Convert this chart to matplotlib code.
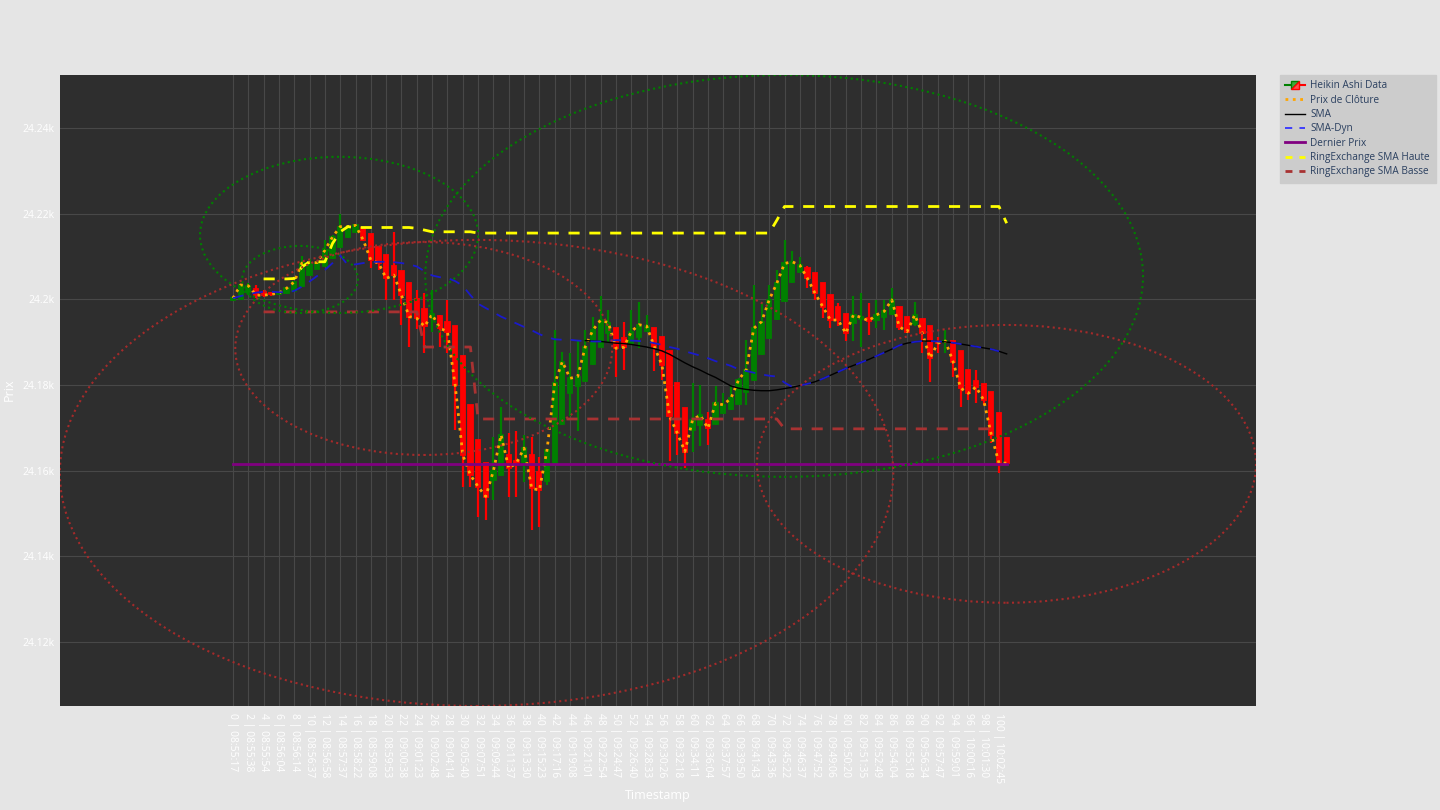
import numpy as np
import matplotlib
matplotlib.use('Agg')
import matplotlib.pyplot as plt
from matplotlib.patches import Ellipse, Polygon
from matplotlib.lines import Line2D
from matplotlib.legend_handler import HandlerBase
from matplotlib.ticker import FuncFormatter

plt.rcParams['font.family'] = ['Open Sans', 'DejaVu Sans']

# ---- data ----
ha_open = [24199.9, 24200.1, 24201.8, 24202.5, 24201.8, 24201.4, 24201.3, 24201.4, 24202.0, 24203.1,
           24205.8, 24207.2, 24207.9, 24209.7, 24212.2, 24214.6, 24215.8, 24216.6, 24215.3, 24212.3,
           24210.4, 24207.7, 24206.7, 24203.9, 24200.0, 24197.8, 24195.8, 24196.2, 24194.8, 24193.7,
           24186.9, 24175.3, 24167.2, 24161.8, 24157.9, 24159.0, 24163.7, 24162.2, 24162.0, 24163.7,
           24159.8, 24157.7, 24161.3, 24170.9, 24178.2, 24179.9, 24181.0, 24185.0, 24189.0, 24192.1,
           24193.4, 24191.0, 24189.9, 24191.2, 24192.7, 24193.3, 24191.2, 24188.0, 24180.4, 24174.6,
           24169.6, 24170.8, 24171.9, 24170.9, 24173.4, 24174.4, 24175.7, 24178.5, 24181.1, 24187.2,
           24191.0, 24195.5, 24199.7, 24204.1, 24206.5, 24207.3, 24206.1, 24203.8, 24201.1, 24198.2,
           24196.7, 24194.4, 24195.4, 24195.6, 24195.3, 24195.9, 24196.6, 24198.3, 24196.0, 24194.3,
           24195.4, 24193.8, 24190.1, 24190.0, 24190.2, 24187.9, 24183.6, 24180.9, 24180.3, 24178.4,
           24173.4, 24167.6]
ha_high = [24200.8, 24203.6, 24203.8, 24203.4, 24202.2, 24201.8, 24201.7, 24202.8, 24204.3, 24210.2,
           24209.4, 24209.0, 24213.9, 24215.0, 24219.9, 24217.4, 24217.6, 24216.6, 24215.3, 24212.3,
           24210.4, 24215.8, 24206.7, 24203.9, 24202.2, 24201.4, 24202.2, 24196.4, 24199.9, 24193.7,
           24186.9, 24175.3, 24167.2, 24161.8, 24168.0, 24175.0, 24168.8, 24169.2, 24168.4, 24168.0,
           24163.3, 24165.2, 24192.9, 24187.8, 24187.4, 24190.2, 24192.9, 24196.0, 24200.7, 24197.5,
           24193.4, 24194.8, 24197.6, 24199.5, 24196.4, 24193.3, 24191.2, 24188.0, 24180.4, 24174.6,
           24180.4, 24180.1, 24173.8, 24179.7, 24178.1, 24180.1, 24181.6, 24190.5, 24203.4, 24199.1,
           24203.4, 24206.9, 24213.9, 24211.2, 24210.0, 24207.7, 24206.1, 24203.8, 24201.1, 24199.1,
           24196.7, 24200.7, 24201.4, 24199.1, 24199.9, 24199.9, 24202.6, 24198.3, 24196.0, 24199.5,
           24195.4, 24193.8, 24191.3, 24192.9, 24190.2, 24187.9, 24183.6, 24183.6, 24180.3, 24178.4,
           24173.4, 24167.6]
ha_low = [24199.6, 24199.9, 24201.0, 24200.4, 24200.6, 24200.9, 24201.1, 24201.2, 24201.8, 24202.8,
          24205.5, 24207.0, 24207.7, 24209.5, 24212.0, 24214.4, 24215.6, 24213.7, 24207.3, 24206.9,
          24199.9, 24199.9, 24194.0, 24189.0, 24193.2, 24187.4, 24192.5, 24189.0, 24187.4, 24169.6,
          24156.3, 24156.3, 24149.3, 24148.6, 24153.2, 24158.8, 24154.0, 24154.0, 24157.5, 24146.2,
          24147.0, 24156.7, 24161.1, 24170.7, 24172.7, 24169.2, 24180.8, 24184.8, 24188.8, 24190.0,
          24182.0, 24183.6, 24189.7, 24188.6, 24192.5, 24183.2, 24181.2, 24162.2, 24163.7, 24160.6,
          24164.5, 24165.7, 24166.0, 24170.7, 24173.2, 24174.2, 24175.5, 24175.4, 24180.9, 24187.0,
          24190.8, 24195.3, 24199.5, 24203.9, 24206.3, 24202.6, 24199.9, 24195.6, 24193.3, 24193.7,
          24190.2, 24190.2, 24189.0, 24191.7, 24193.3, 24192.9, 24196.4, 24192.9, 24192.3, 24193.7,
          24187.4, 24180.8, 24187.4, 24187.4, 24182.0, 24175.0, 24176.5, 24175.8, 24175.4, 24166.4,
          24159.4, 24161.6]
ha_close = [24200.3, 24203.4, 24203.2, 24201.0, 24201.0, 24201.2, 24201.5, 24202.6, 24204.1, 24208.5,
            24208.6, 24208.6, 24211.5, 24214.6, 24217.0, 24217.0, 24217.3, 24213.9, 24209.2, 24208.5,
            24204.9, 24205.7, 24201.0, 24196.0, 24195.6, 24193.7, 24196.5, 24193.3, 24192.5, 24180.1,
            24163.7, 24159.0, 24156.3, 24154.0, 24160.0, 24168.4, 24160.6, 24161.8, 24165.3, 24155.9,
            24155.5, 24164.9, 24180.4, 24185.5, 24181.6, 24182.0, 24189.0, 24192.9, 24195.2, 24194.6,
            24188.6, 24188.8, 24192.5, 24194.1, 24193.8, 24189.0, 24184.7, 24172.7, 24168.8, 24164.5,
            24171.9, 24173.0, 24169.9, 24175.8, 24175.4, 24176.9, 24181.2, 24183.6, 24193.3, 24194.8,
            24199.9, 24203.8, 24208.4, 24208.8, 24208.0, 24204.9, 24201.4, 24198.3, 24195.2, 24195.2,
            24192.1, 24196.4, 24195.8, 24195.0, 24196.4, 24197.2, 24199.9, 24193.6, 24192.5, 24196.4,
            24192.1, 24186.3, 24189.8, 24190.3, 24185.5, 24179.3, 24178.1, 24179.6, 24176.5, 24168.4,
            24161.8, 24161.8]

# timestamps of the labelled (even) points
tick_times = ['08:55:17', '08:55:38', '08:55:54', '08:56:04', '08:56:14', '08:56:37', '08:56:58',
              '08:57:37', '08:58:22', '08:59:08', '08:59:53', '09:00:38', '09:01:23', '09:02:48',
              '09:04:14', '09:05:40', '09:07:51', '09:09:44', '09:11:37', '09:13:30', '09:15:23',
              '09:17:16', '09:19:08', '09:21:01', '09:22:54', '09:24:47', '09:26:40', '09:28:33',
              '09:30:26', '09:32:18', '09:34:11', '09:36:04', '09:37:57', '09:39:50', '09:41:43',
              '09:43:36', '09:45:22', '09:46:37', '09:47:52', '09:49:06', '09:50:20', '09:51:35',
              '09:52:49', '09:54:04', '09:55:18', '09:56:34', '09:57:47', '09:59:01', '10:00:16',
              '10:01:30', '10:02:45']

nan = np.nan
sma = [nan] * 46 + [24190.4, 24190.3, 24190.2, 24190.0, 24189.8, 24189.7, 24189.5, 24189.2, 24188.9, 24188.5,
                    24188.0, 24187.2, 24186.2, 24185.2, 24184.3, 24183.5, 24182.6, 24181.8, 24180.8, 24179.8,
                    24179.3, 24179.0, 24178.8, 24178.7, 24178.7, 24178.9, 24179.2, 24179.5, 24179.9, 24180.3,
                    24180.8, 24181.5, 24182.3, 24183.1, 24183.9, 24184.6, 24185.3, 24186.0, 24186.8, 24187.6,
                    24188.4, 24189.3, 24189.8, 24190.1, 24190.3, 24190.3, 24190.2, 24190.1, 24189.9, 24189.6,
                    24189.3, 24189.0, 24188.7, 24188.4, 24187.9, 24187.3]
sma_dyn = [24200.3, 24200.8, 24201.2, 24201.6, 24201.8, 24201.8, 24201.7, 24201.7, 24202.0, 24203.0,
           24204.2, 24205.5, 24206.9, 24208.5, 24210.3, 24208.0, 24208.2, 24208.5, 24208.7, 24208.8,
           24208.8, 24208.7, 24208.5, 24208.2, 24207.7, 24206.6, 24205.6, 24205.2, 24205.0, 24204.3,
           24203.2, 24201.0, 24199.0, 24198.0, 24197.0, 24196.0, 24195.2, 24194.4, 24193.6, 24192.8,
           24191.9, 24191.2, 24190.7, 24190.6, 24190.6, 24190.4, 24190.3, 24190.2, 24190.2, 24190.4,
           24190.5, 24190.5, 24190.4, 24190.3, 24190.2, 24189.8, 24189.4, 24188.9, 24188.5, 24187.9,
           24187.4, 24186.9, 24186.3, 24185.6, 24185.1, 24184.5, 24183.7, 24183.3, 24182.9, 24182.5,
           24182.2, 24182.0, 24180.6, 24179.6, 24179.9, 24180.3, 24180.8, 24181.5, 24182.3, 24183.1,
           24183.9, 24184.6, 24185.3, 24186.0, 24186.8, 24187.6, 24188.4, 24189.3, 24189.8, 24190.1,
           24190.3, 24190.3, 24190.2, 24190.1, 24189.9, 24189.6, 24189.3, 24189.0, 24188.7, 24188.4,
           24187.9, nan]
ring_high = [nan] * 4 + [24204.8, 24204.8, 24204.8, 24204.8, 24204.9, 24207.6, 24208.8, 24208.8, 24208.8,
                         24213.1, 24215.8, 24217.0] + [24216.8] * 8 + [24216.6, 24216.2] \
            + [24215.8] * 6 + [24215.5] * 39 + [24218.5] + [24221.7] * 29 + [24217.8]
ring_low = [nan] * 4 + [24197.1] * 21 + [24188.9] * 7 + [24172.1] * 40 + [24169.8] * 29 + [nan]
last_price = 24161.7

# circle shapes (x0, x1, y0, y1, colour) in data units
circles = [
    (25.1, 118.8, 24158.6, 24252.4, 'green'),
    (-4.3, 32.0, 24196.85, 24233.3, 'green'),
    (1.2, 16.3, 24196.85, 24212.5, 'green'),
    (-22.6, 86.2, 24105.1, 24213.9, 'brown'),
    (0.3, 49.5, 24163.7, 24213.4, 'brown'),
    (68.4, 133.55, 24129.2, 24194.05, 'brown'),
]

idx = np.arange(len(ha_close))
o = np.array(ha_open)
c = np.array(ha_close)
up = c >= o


class CandleHandler(HandlerBase):
    def create_artists(self, legend, orig_handle, xdescent, ydescent, width, height, fontsize, trans):
        x0, y0 = -xdescent, -ydescent
        cy = y0 + height / 2
        bx0, bx1 = x0 + width * 0.3, x0 + width * 0.7
        by0, by1 = y0 - height * 0.05, y0 + height * 1.05
        arts = [
            Line2D([x0, bx0], [cy, cy], color='#008000', lw=1.5),
            Line2D([bx1, x0 + width], [cy, cy], color='#ff0000', lw=1.5),
            Polygon([[bx0, by0], [bx0, by1], [bx1, by1]], closed=True, fc='#3da83d', ec='#008000', lw=1),
            Polygon([[bx0, by0], [bx1, by0], [bx1, by1]], closed=True, fc='#ff4d4d', ec='#ff0000', lw=1),
        ]
        for a in arts:
            a.set_transform(trans)
        return arts


fig = plt.figure(figsize=(14.4, 8.1), dpi=100, facecolor='#e5e5e5')
ax = fig.add_axes([60 / 1440, 1 - 706 / 810, 1196 / 1440, 631 / 810])
ax.set_facecolor('#2e2e2e')

# candles
for i in idx:
    col = '#008000' if up[i] else '#ff0000'
    ax.vlines(i, ha_low[i], ha_high[i], color=col, lw=1.6, zorder=2)
ax.bar(idx[up], c[up] - o[up], bottom=o[up], width=0.55, color='#008000', edgecolor='#008000', lw=1.3, zorder=3)
ax.bar(idx[~up], o[~up] - c[~up], bottom=c[~up], width=0.55, color='#ff0000', edgecolor='#ff0000', lw=1.3, zorder=3)

ax.plot(idx, ha_close, color='orange', ls=':', lw=2, zorder=4)
ax.plot(idx, sma, color='black', lw=1, zorder=4)
ax.plot(idx, sma_dyn, color='#1a1acc', ls=(0, (6, 5)), lw=1.3, zorder=4)
ax.plot(idx, [last_price] * len(idx), color='purple', lw=2, zorder=4)
ax.plot(idx, ring_high, color='yellow', ls=(0, (4, 3.5)), lw=2, zorder=4)
ax.plot(idx, ring_low, color='#a83232', ls=(0, (4, 3.5)), lw=2, zorder=4)

for x0, x1, y0, y1, col in circles:
    ax.add_patch(Ellipse(((x0 + x1) / 2, (y0 + y1) / 2), x1 - x0, y1 - y0, fill=False,
                         ec=col, ls=':', lw=1.5, zorder=5))

ax.set_xlim(-22.58, 133.55)
ax.set_ylim(24105.1, 24252.4)

# axes styling
tick_idx = idx[::2][:len(tick_times)]
ax.set_xticks(tick_idx)
ax.set_xticklabels(['{} | {}'.format(i, t) for i, t in zip(tick_idx, tick_times)],
                   rotation=-90, va='top', ha='center')
ax.set_yticks(np.arange(24120, 24241, 20))
ax.yaxis.set_major_formatter(FuncFormatter(lambda v, p: '{:g}k'.format(round(v / 1000, 3))))
ax.tick_params(axis='x', length=0, colors='white', labelsize=7.5, pad=5)
ax.tick_params(axis='y', length=0, colors='white', labelsize=7.5, pad=4)
ax.grid(True, color='#484848', lw=0.8)
ax.set_axisbelow(True)
for s in ax.spines.values():
    s.set_visible(False)

fig.text(658 / 1440, 1 - 796 / 810, 'Timestamp', color='white', fontsize=9, ha='center', va='center')
fig.text(9 / 1440, 1 - 390 / 810, 'Prix', color='white', fontsize=9, rotation=90, ha='center', va='center')

handles = [
    Line2D([], []),
    Line2D([], [], color='orange', ls=':', lw=2),
    Line2D([], [], color='black', lw=1),
    Line2D([], [], color='#3333ff', ls=(0, (4, 4)), lw=1.3),
    Line2D([], [], color='purple', lw=2),
    Line2D([], [], color='yellow', ls=(0, (2.5, 2.5)), lw=2),
    Line2D([], [], color='#a83232', ls=(0, (2.5, 2.5)), lw=2),
]
labels = ['Heikin Ashi Data', 'Prix de Clôture', 'SMA', 'SMA-Dyn', 'Dernier Prix',
          'RingExchange SMA Haute', 'RingExchange SMA Basse']
leg = ax.legend(handles, labels, loc='upper left', bbox_to_anchor=(1.02, 1.0), borderaxespad=0,
                fontsize=7.2, facecolor='#cccccc', edgecolor='#cccccc', fancybox=False, framealpha=1,
                labelcolor='#2a3f5f', handlelength=2.0, handletextpad=0.5, labelspacing=0.33,
                borderpad=0.55, handler_map={handles[0]: CandleHandler()})

fig.savefig('out.png', dpi=100, facecolor=fig.get_facecolor())
